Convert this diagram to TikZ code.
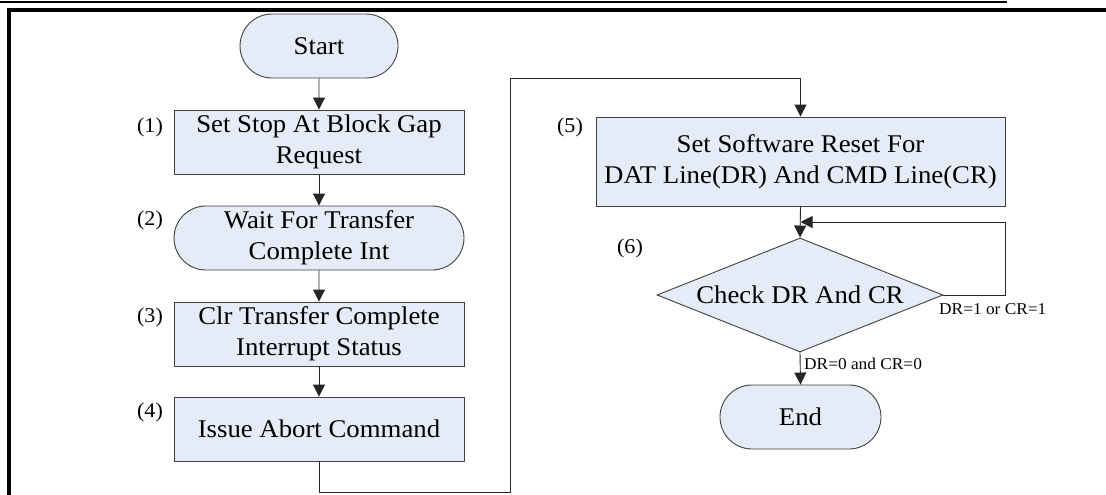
\documentclass[tikz,border=0pt]{standalone}
\usepackage{fontspec}
\setmainfont{Liberation Serif}[FakeStretch=1.05]
\usetikzlibrary{arrows.meta,shapes.misc,shapes.geometric}
\definecolor{boxfill}{HTML}{E6ECF7}
\definecolor{edge}{HTML}{404040}
\tikzset{
  base/.style={draw=edge, line width=0.9pt, fill=boxfill, align=center, inner sep=0pt,
    font=\fontsize{25.5}{31}\selectfont},
  procbox/.style={base, rectangle, minimum width=#1, minimum height=64pt},
  termbox/.style={base, rounded rectangle, rounded rectangle arc length=180, minimum width=#1, minimum height=64pt},
  decbox/.style={base, diamond, aspect=2.5, minimum width=286pt, minimum height=114pt},
  numlab/.style={inner sep=0pt, font=\fontsize{21}{24}\selectfont},
  condlab/.style={inner sep=0pt, anchor=west, font=\fontsize{16.5}{19}\selectfont},
  conn/.style={draw=black!85, line width=0.9pt},
  arr/.style={conn, -{Triangle[length=12pt,width=12pt]}},
}
\begin{document}
\begin{tikzpicture}[x=1pt,y=-1pt]
\useasboundingbox (0,0) rectangle (1106,495);
% page frame
\fill (0,1) rectangle (1007,3.5);
\fill (7,8) rectangle (1106,12);
\fill (7,8) rectangle (11,495);

% nodes
\node[termbox=158pt] (start) at (319,46) {Start};
\node[procbox=290pt] (b1) at (319,142) {Set Stop At Block Gap\\Request};
\node[termbox=290pt] (b2) at (319,238) {Wait For Transfer\\Complete Int};
\node[procbox=290pt] (b3) at (319,334) {Clr Transfer Complete\\Interrupt Status};
\node[procbox=290pt] (b4) at (319,429) {Issue Abort Command};
\node[base, rectangle, minimum width=409pt, minimum height=89pt] (b5) at (800.5,161.5)
  {Set Software Reset For\\DAT Line(DR) And CMD Line(CR)};
\node[decbox] (d) at (800,295) {Check DR And CR};
\node[termbox=161pt] (end) at (800.5,417) {End};

% step numbers
\node[numlab] (n1) at (150,127) {(1)};
\node[numlab] (n2) at (150,220) {(2)};
\node[numlab] (n3) at (150,317) {(3)};
\node[numlab] (n4) at (150,412) {(4)};
\node[numlab] (n5) at (570,127) {(5)};
\node[numlab] (n6) at (630,248) {(6)};

% condition labels
\node[condlab] (c1) at (939,309) {DR=1 or CR=1};
\node[condlab] (c0) at (804,364) {DR=0 and CR=0};

% route coordinates
\coordinate (p1) at (319,492);
\coordinate (p2) at (510,492);
\coordinate (p3) at (510,78);
\coordinate (p4) at (800.5,78);
\coordinate (q1) at (1005,295);
\coordinate (q2) at (1005,222);
\coordinate (q3) at (800.5,222);

% connectors
\draw[arr] (start) -- (b1);
\draw[arr] (b1) -- (b2);
\draw[arr] (b2) -- (b3);
\draw[arr] (b3) -- (b4);
\draw[arr] (b4.south) -- (p1) -- (p2) -- (p3) -- (p4) -- (b5.north);
\draw[arr] (b5.south) -- (d.north);
\draw[arr] (d.east) -- (q1) -- (q2) -- (q3);
\draw[arr] (d.south) -- (end.north);
\end{tikzpicture}
\end{document}
